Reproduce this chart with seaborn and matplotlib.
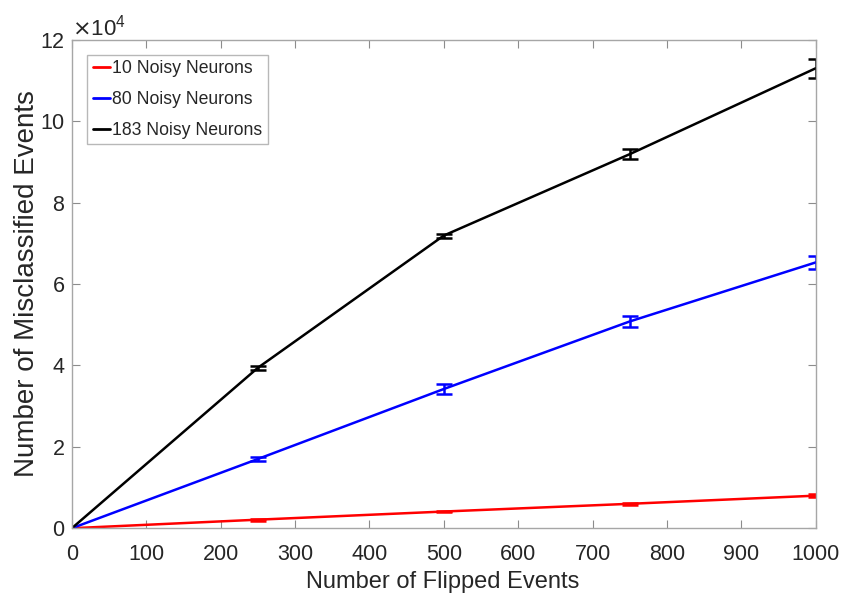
import numpy as np
import pandas as pd
import matplotlib
matplotlib.use("Agg")
import matplotlib.pyplot as plt
import seaborn as sns
from matplotlib.ticker import ScalarFormatter

# ---- data ----
flipped = [0, 250, 500, 750, 1000]
series_names = ["10 Noisy Neurons", "80 Noisy Neurons", "183 Noisy Neurons"]
mis_10 = [0, 2100, 4100, 6000, 8000]
mis_80 = [0, 17000, 34200, 50800, 65300]
mis_183 = [0, 39400, 71900, 91900, 113000]
err_10 = [0, 250, 200, 300, 300]
err_80 = [0, 500, 1200, 1300, 1500]
err_183 = [0, 500, 500, 1200, 2300]
colors = ["#ff0000", "#0000ff", "#000000"]

values = [mis_10, mis_80, mis_183]
errors = [err_10, err_80, err_183]

df = pd.DataFrame({
    "flipped": flipped * 3,
    "misclassified": mis_10 + mis_80 + mis_183,
    "series": [n for n in series_names for _ in flipped],
})

sns.set_style("white")
plt.rcParams["font.family"] = ["Liberation Sans", "DejaVu Sans"]
txt_col = "#262626"

fig = plt.figure(figsize=(8.55, 6.03), dpi=100)
ax = fig.add_axes([0.084, 0.124, 0.870, 0.810])

sns.lineplot(data=df, x="flipped", y="misclassified", hue="series",
             palette=dict(zip(series_names, colors)), linewidth=1.8, ax=ax,
             errorbar=None)

for vals, errs, c in zip(values, errors, colors):
    ax.errorbar(flipped[1:], vals[1:], yerr=errs[1:], fmt="none", ecolor=c,
                elinewidth=1.8, capsize=5.5, capthick=1.8)

ax.set_xlim(0, 1000)
ax.set_ylim(0, 120000)
ax.set_xticks(np.arange(0, 1001, 100))
ax.set_yticks(np.arange(0, 120001, 20000))

fmt = ScalarFormatter(useMathText=True)
fmt.set_powerlimits((4, 4))
ax.yaxis.set_major_formatter(fmt)
off = ax.yaxis.get_offset_text()
off.set_fontsize(16)
off.set_color(txt_col)

ax.set_xlabel("Number of Flipped Events", fontsize=17, color=txt_col)
ax.set_ylabel("Number of Misclassified Events", fontsize=20, color=txt_col)
ax.xaxis.set_label_coords(0.499, -0.088)
ax.yaxis.set_label_coords(-0.043, 0.5)
ax.tick_params(axis="both", direction="in", length=6, width=0.8, color="#8c8c8c",
               labelsize=15.5, labelcolor=txt_col, top=True, right=True,
               bottom=True, left=True)
ax.tick_params(axis="x", pad=11)
ax.tick_params(axis="y", pad=5)
for s in ax.spines.values():
    s.set_color("#a6a6a6")
    s.set_linewidth(1.0)

leg = ax.legend(loc="upper left", fontsize=12.7, frameon=True, fancybox=False,
                handlelength=1.0, handletextpad=0.1, borderpad=0.3,
                labelspacing=0.78, borderaxespad=0.0,
                bbox_to_anchor=(0.021, 0.969))
leg.get_frame().set_edgecolor("#a6a6a6")
leg.get_frame().set_linewidth(1.0)
for line in leg.get_lines():
    line.set_linewidth(2)

fig.savefig("out.png", dpi=100)
